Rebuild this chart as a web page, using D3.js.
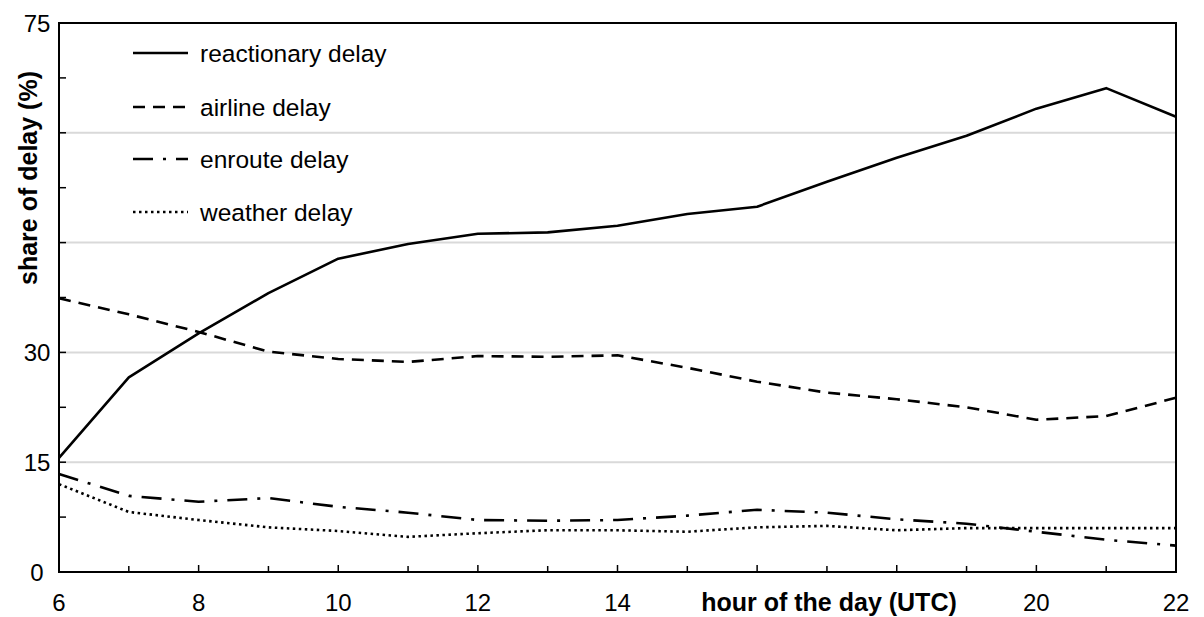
<!DOCTYPE html>
<html>
<head>
<meta charset="utf-8">
<script src="https://cdn.jsdelivr.net/npm/d3@7"></script>
<style>
  body { margin: 0; background: #fff; }
  text { font-family: "Liberation Sans", Arial, sans-serif; fill: #000; }
</style>
</head>
<body>
<script>
// chart values
var hours = [6, 7, 8, 9, 10, 11, 12, 13, 14, 15, 16, 17, 18, 19, 20, 21, 22];
var reactionary = [15.6, 26.6, 32.6, 38.1, 42.8, 44.8, 46.2, 46.4, 47.3, 48.9, 49.9, 53.3, 56.6, 59.6, 63.3, 66.1, 62.2];
var airline = [37.4, 35.2, 32.8, 30.1, 29.1, 28.7, 29.5, 29.4, 29.6, 27.9, 26.0, 24.5, 23.6, 22.5, 20.8, 21.3, 23.8];
var enroute = [13.4, 10.4, 9.6, 10.1, 8.9, 8.1, 7.1, 7.0, 7.1, 7.7, 8.5, 8.1, 7.2, 6.6, 5.5, 4.4, 3.6];
var weather = [12.0, 8.2, 7.1, 6.1, 5.6, 4.8, 5.3, 5.7, 5.7, 5.5, 6.1, 6.3, 5.7, 6.0, 6.0, 6.0, 6.0];
var seriesNames = ["reactionary delay", "airline delay", "enroute delay", "weather delay"];
var xLabels = [6, 8, 10, 12, 14, 20, 22];
var yLabels = [0, 15, 30, 75];
var yGrid = [15, 30, 45, 60];

var width = 1204, height = 617;
var mLeft = 59, mRight = 1176, mTop = 23, mBottom = 572;

var svg = d3.select("body").append("svg").attr("width", width).attr("height", height);

var x = d3.scaleLinear().domain([6, 22]).range([mLeft, mRight]);
var y = d3.scaleLinear().domain([0, 75]).range([mBottom, mTop]);

// gridlines
svg.append("g").selectAll("line").data(yGrid).enter().append("line")
  .attr("x1", mLeft).attr("x2", mRight)
  .attr("y1", function(d){ return y(d); }).attr("y2", function(d){ return y(d); })
  .attr("stroke", "#d9d9d9").attr("stroke-width", 2);

// y ticks (inside), every 7.5
svg.append("g").selectAll("line").data(d3.range(0, 75.1, 7.5)).enter().append("line")
  .attr("x1", mLeft).attr("x2", mLeft + 7)
  .attr("y1", function(d){ return y(d); }).attr("y2", function(d){ return y(d); })
  .attr("stroke", "#000").attr("stroke-width", 1.5);

// x ticks (inside), every hour
svg.append("g").selectAll("line").data(d3.range(6, 23)).enter().append("line")
  .attr("x1", function(d){ return x(d); }).attr("x2", function(d){ return x(d); })
  .attr("y1", mBottom).attr("y2", function(d){ return d % 2 == 0 ? mBottom - 7 : mBottom - 6; })
  .attr("stroke", "#000").attr("stroke-width", 1.5);

// frame
svg.append("rect").attr("x", mLeft).attr("y", mTop)
  .attr("width", mRight - mLeft).attr("height", mBottom - mTop)
  .attr("fill", "none").attr("stroke", "#000").attr("stroke-width", 2);

// tick labels
svg.append("g").selectAll("text").data(yLabels).enter().append("text")
  .attr("x", 37).attr("y", function(d){ return y(d); })
  .attr("dy", "0.36em").attr("text-anchor", "middle")
  .style("font-size", "24px").text(function(d){ return d; });

svg.append("g").selectAll("text").data(xLabels).enter().append("text")
  .attr("x", function(d){ return x(d); }).attr("y", 611)
  .attr("text-anchor", "middle")
  .style("font-size", "24px").text(function(d){ return d; });

// axis titles
svg.append("text").attr("x", 829).attr("y", 611).attr("text-anchor", "middle")
  .style("font-size", "25px").style("font-weight", "bold")
  .text("hour of the day (UTC)");

svg.append("text").attr("transform", "translate(37,178) rotate(-90)")
  .attr("text-anchor", "middle")
  .style("font-size", "25px").style("font-weight", "bold")
  .text("share of delay (%)");

// series
var series = [reactionary, airline, enroute, weather];
var dashes = [null, "12,8", "20,10,3,10", "2.5,3.5"];

var line = d3.line()
  .x(function(d, i){ return x(hours[i]); })
  .y(function(d){ return y(d); });

svg.append("g").selectAll("path").data(series).enter().append("path")
  .attr("d", line)
  .attr("fill", "none").attr("stroke", "#000").attr("stroke-width", 2.6)
  .attr("stroke-linejoin", "round")
  .attr("stroke-dasharray", function(d, i){ return dashes[i]; });

// legend
var legY = [53, 107, 159, 212];
var leg = svg.append("g").selectAll("g").data(seriesNames).enter().append("g");
leg.append("line")
  .attr("x1", 133).attr("x2", 188)
  .attr("y1", function(d, i){ return legY[i]; }).attr("y2", function(d, i){ return legY[i]; })
  .attr("stroke", "#000").attr("stroke-width", 2.6)
  .attr("stroke-dasharray", function(d, i){ return dashes[i]; });
leg.append("text")
  .attr("x", 200).attr("y", function(d, i){ return legY[i]; }).attr("dy", "0.36em")
  .style("font-size", "24.5px").text(function(d){ return d; });
</script>
</body>
</html>
